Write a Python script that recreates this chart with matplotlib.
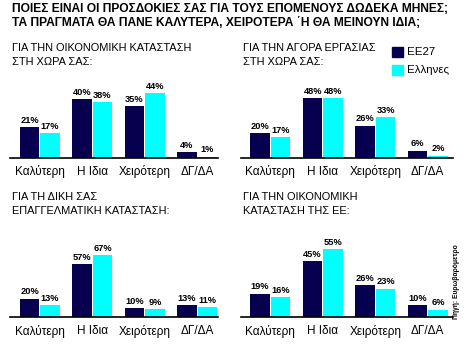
import numpy as np
import matplotlib
matplotlib.use("Agg")
import matplotlib.pyplot as plt
from matplotlib.transforms import blended_transform_factory

plt.rcParams['font.family'] = ['Liberation Sans', 'DejaVu Sans']

# data
categories = ["Καλύτερη", "Η Ιδια", "Χειρότερη", "ΔΓ/ΔΑ"]
series_names = ["ΕΕ27", "Ελληνες"]

panel_titles = [["ΓΙΑ ΤΗΝ ΟΙΚΟΝΟΜΙΚΗ ΚΑΤΑΣΤΑΣΗ", "ΣΤΗ ΧΩΡΑ ΣΑΣ:"],
                ["ΓΙΑ ΤΗΝ ΑΓΟΡΑ ΕΡΓΑΣΙΑΣ", "ΣΤΗ ΧΩΡΑ ΣΑΣ:"],
                ["ΓΙΑ ΤΗ ΔΙΚΗ ΣΑΣ", "ΕΠΑΓΓΕΛΜΑΤΙΚΗ ΚΑΤΑΣΤΑΣΗ:"],
                ["ΓΙΑ ΤΗΝ ΟΙΚΟΝΟΜΙΚΗ", "ΚΑΤΑΣΤΑΣΗ ΤΗΣ ΕΕ:"]]

eu27_country_econ = [21, 40, 35, 4]
greeks_country_econ = [17, 38, 44, 1]
eu27_jobs = [20, 48, 26, 6]
greeks_jobs = [17, 48, 33, 2]
eu27_personal = [20, 57, 10, 13]
greeks_personal = [13, 67, 9, 11]
eu27_eu_econ = [19, 45, 26, 10]
greeks_eu_econ = [16, 55, 23, 6]

title_lines = ["ΠΟΙΕΣ ΕΙΝΑΙ ΟΙ ΠΡΟΣΔΟΚΙΕΣ ΣΑΣ ΓΙΑ ΤΟΥΣ ΕΠΟΜΕΝΟΥΣ ΔΩΔΕΚΑ ΜΗΝΕΣ;",
               "ΤΑ ΠΡΑΓΜΑΤΑ ΘΑ ΠΑΝΕ ΚΑΛΥΤΕΡΑ, ΧΕΙΡΟΤΕΡΑ ΄Η ΘΑ ΜΕΙΝΟΥΝ ΙΔΙΑ;"]
source = "Πηγή: Ευρωβαρόμετρο"

navy = '#06004f'
cyan = '#00ffff'

W, H = 466.0, 352.0
fig = plt.figure(figsize=(W / 100, H / 100), dpi=100)
renderer = fig.canvas.get_renderer()


def fit_size(s, target_px, weight='normal'):
    # font size that makes string s about target_px wide
    t = fig.text(0, 0, s, fontsize=10, fontweight=weight)
    w = t.get_window_extent(renderer).width
    t.remove()
    return 10 * target_px / w


title_fs = fit_size(title_lines[0], 435, 'bold')
fig.text(12 / W, 1 - 9 / H, title_lines[0], ha='left', va='center',
         fontsize=title_fs, fontweight='bold')
fig.text(12 / W, 1 - 23 / H, title_lines[1], ha='left', va='center',
         fontsize=title_fs, fontweight='bold')

ptitle_fs = fit_size(panel_titles[0][0], 180)
tick_fs = fit_size(categories[0], 50)
val_fs = fit_size("40%", 18.5, 'bold')
leg_fs = fit_size(series_names[1], 42)
src_fs = fit_size(source, 74, 'bold')

panels = [(eu27_country_econ, greeks_country_econ),
          (eu27_jobs, greeks_jobs),
          (eu27_personal, greeks_personal),
          (eu27_eu_econ, greeks_eu_econ)]
# left px, baseline px, width px, ymax (sets bar scale)
boxes = [(10, 158, 208, 54), (241, 158, 212, 64),
         (10, 317, 208, 86.5), (241, 317, 212, 64.7)]
xlims = [(-0.57, 3.4), (-0.56, 3.48), (-0.57, 3.4), (-0.56, 3.48)]
title_y = [48, 48, 197, 197]
ax_h = 80

x = np.arange(len(categories))
bw = 0.37
for i, ((a, b), (lx, by, wpx, ymax)) in enumerate(zip(panels, boxes)):
    ax = fig.add_axes([lx / W, 1 - by / H, wpx / W, ax_h / H])
    r1 = ax.bar(x - 0.195, a, bw, color=navy)
    r2 = ax.bar(x + 0.195, b, bw, color=cyan)
    for rects, vals in ((r1, a), (r2, b)):
        ax.bar_label(rects, labels=["%d%%" % v for v in vals], padding=1.5,
                     fontsize=val_fs, fontweight='bold')
    ax.set_ylim(0, ymax)
    ax.set_xlim(*xlims[i])
    for s in ['top', 'right', 'left']:
        ax.spines[s].set_visible(False)
    ax.spines['bottom'].set_linewidth(1.2)
    ax.set_yticks([])
    ax.set_xticks([])
    ax.patch.set_alpha(0)
    tr = blended_transform_factory(ax.transData, fig.transFigure)
    for xi, c in zip(x, categories):
        ax.text(xi, 1 - (by + 14) / H, c, transform=tr, ha='center',
                va='center', fontsize=tick_fs)
    for k, line in enumerate(panel_titles[i]):
        fig.text((lx + 2) / W, 1 - (title_y[i] + 14 * k) / H, line,
                 ha='left', va='center', fontsize=ptitle_fs)

# legend
for j, (name, col) in enumerate(zip(series_names, [navy, cyan])):
    y0 = 47 + j * 18
    fig.patches.append(plt.Rectangle((392 / W, 1 - (y0 + 10) / H), 11 / W, 10 / H,
                                     transform=fig.transFigure, color=col))
    fig.text(407 / W, 1 - (y0 + 5) / H, name, ha='left', va='center',
             fontsize=leg_fs)

fig.text(457 / W, 1 - 282 / H, source, rotation=90, ha='center', va='center',
         fontsize=src_fs, fontweight='bold')

fig.savefig('out.png', dpi=100)
